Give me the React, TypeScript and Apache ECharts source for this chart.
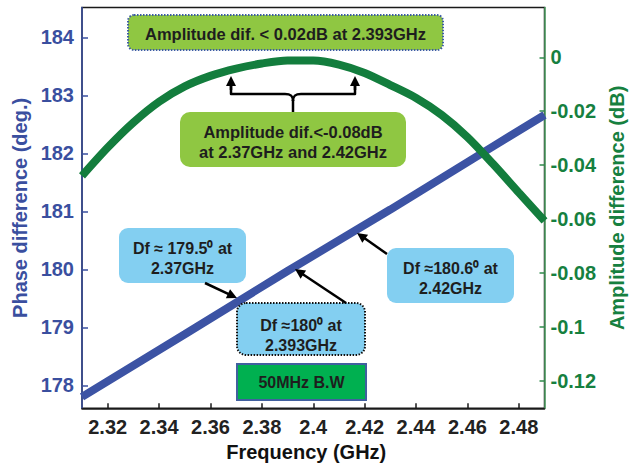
import React, { useEffect, useRef } from "react";
import * as echarts from "echarts";

// ---- data ----
const frequencyGHz = [
  2.31, 2.32, 2.33, 2.34, 2.35, 2.36, 2.37, 2.38, 2.39, 2.4,
  2.41, 2.42, 2.43, 2.44, 2.45, 2.46, 2.47, 2.48, 2.49,
];
const amplitudeDiffDb = [
  -0.044, -0.0335, -0.0242, -0.0165, -0.0108, -0.0069, -0.0042, -0.0023, -0.0012, -0.0012,
  -0.0027, -0.0058, -0.0103, -0.0151, -0.0214, -0.0296, -0.0396, -0.0502, -0.0607,
];
const phaseFreqGHz = [2.31, 2.35, 2.39, 2.43, 2.47, 2.49];
const phaseDiffDeg = [177.8, 178.88, 179.97, 181.03, 182.12, 182.66];

const xLabel = "Frequency (GHz)";
const yLeftLabel = "Phase difference (deg.)";
const yRightLabel = "Amplitude difference (dB)";

const noteTop = "Amplitude dif. < 0.02dB at 2.393GHz";
const noteMid = "Amplitude dif.<-0.08dB\nat 2.37GHz and 2.42GHz";
const noteDf1 = "Df ≈ 179.5⁰ at\n2.37GHz";
const noteDf2 = "Df ≈180⁰ at\n2.393GHz";
const noteDf3 = "Df ≈180.6⁰ at\n2.42GHz";
const noteBW = "50MHz B.W";

// ---- styles ----
const FONT = '"Liberation Sans", Arial, Helvetica, sans-serif';
const BLUE = "#3c53a4";
const GREEN = "#137d3d";
const BLUE_LABEL = "#3a4f9f";
const GREEN_LABEL = "#16803f";
const LIGHT_GREEN = "#8fc742";
const LIGHT_BLUE = "#83cff1";

function fmt(v: number) {
  const r = Math.round(v * 100) / 100;
  if (Math.abs(r - v) > 1e-6) return "";
  return String(r === 0 ? 0 : r);
}

function arrow(x1: number, y1: number, x2: number, y2: number) {
  const dx = x2 - x1;
  const dy = y2 - y1;
  const len = Math.sqrt(dx * dx + dy * dy);
  const ux = dx / len;
  const uy = dy / len;
  const hl = 10;
  const hw = 5;
  const bx = x2 - ux * hl;
  const by = y2 - uy * hl;
  return [
    {
      type: "line",
      shape: { x1, y1, x2: bx + ux * 2, y2: by + uy * 2 },
      style: { stroke: "#000", lineWidth: 2.5 },
      z: 100,
    },
    {
      type: "polygon",
      shape: {
        points: [
          [x2, y2],
          [bx - uy * hw, by + ux * hw],
          [bx + uy * hw, by - ux * hw],
        ],
      },
      style: { fill: "#000" },
      z: 100,
    },
  ];
}

function box(x: number, y: number, w: number, h: number, fill: string, stroke?: string, dash?: boolean, r = 8) {
  return {
    type: "rect",
    shape: { x, y, width: w, height: h, r },
    style: {
      fill,
      stroke: stroke || null,
      lineWidth: stroke ? 2 : 0,
      lineDash: dash ? [1.5, 1.5] : null,
    },
    z: 90,
  };
}

function label(cx: number, cy: number, text: string, size = 16) {
  return {
    type: "text",
    x: cx,
    y: cy,
    style: {
      text,
      fill: "#1e1e1e",
      font: `bold ${size}px ${FONT}`,
      align: "center",
      verticalAlign: "middle",
      lineHeight: 20,
    },
    z: 110,
  };
}

export default function App() {
  const ref = useRef<HTMLDivElement>(null);

  useEffect(() => {
    document.body.style.margin = "0";
    if (!ref.current) return;
    const chart = echarts.init(ref.current, null, { renderer: "svg" });

    const graphics: any[] = [
      // top note
      box(128, 15, 315, 35, LIGHT_GREEN, "#3d5ca3", true, 6),
      label(285.5, 34, noteTop, 16.5),
      // middle note
      box(180, 112, 226, 55, LIGHT_GREEN, undefined, false, 10),
      label(293, 141.5, noteMid, 16.5),
      // bracket
      {
        type: "polyline",
        shape: { points: [[231, 86], [231, 94], [285, 94]] },
        style: { stroke: "#000", lineWidth: 2.5, fill: null, lineJoin: "round" },
        z: 100,
      },
      {
        type: "polyline",
        shape: { points: [[301, 94], [355, 94], [355, 86]] },
        style: { stroke: "#000", lineWidth: 2.5, fill: null, lineJoin: "round" },
        z: 100,
      },
      {
        type: "bezierCurve",
        shape: { x1: 285, y1: 94, cpx1: 291, cpy1: 94, cpx2: 293, cpy2: 96, x2: 293, y2: 101 },
        style: { stroke: "#000", lineWidth: 2.5, fill: null },
        z: 100,
      },
      {
        type: "bezierCurve",
        shape: { x1: 301, y1: 94, cpx1: 295, cpy1: 94, cpx2: 293, cpy2: 96, x2: 293, y2: 101 },
        style: { stroke: "#000", lineWidth: 2.5, fill: null },
        z: 100,
      },
      {
        type: "line",
        shape: { x1: 293, y1: 100, x2: 293, y2: 112 },
        style: { stroke: "#000", lineWidth: 2.5 },
        z: 100,
      },
      ...arrow(231, 90, 231, 76),
      ...arrow(355, 90, 355, 76),
      // Df boxes
      box(119, 228, 127, 55, LIGHT_BLUE, undefined, false, 9),
      label(182.5, 258, noteDf1),
      ...arrow(205, 283, 237, 298),
      box(237, 303, 128, 52, LIGHT_BLUE, "#111", true, 9),
      label(301, 335, noteDf2),
      ...arrow(346, 303, 295, 269),
      box(387, 248, 127, 55, LIGHT_BLUE, undefined, false, 9),
      label(450.5, 278, noteDf3),
      ...arrow(387, 254, 357, 233),
      // bandwidth box
      {
        type: "rect",
        shape: { x: 237, y: 364, width: 129, height: 36 },
        style: { fill: "#00b050", stroke: "#41609f", lineWidth: 2 },
        z: 90,
      },
      label(301.5, 382, noteBW),
    ];

    chart.setOption({
      animation: false,
      backgroundColor: "#fff",
      grid: {
        left: 82,
        top: 7.5,
        width: 463.5,
        height: 400.8,
        show: true,
        borderColor: "#1a1a1a",
        borderWidth: 1.5,
        backgroundColor: "transparent",
        containLabel: false,
      },
      xAxis: {
        type: "value",
        min: 2.31,
        max: 2.49,
        splitNumber: 9,
        minInterval: 0.02,
        maxInterval: 0.02,
        axisLine: { show: true, onZero: false, lineStyle: { color: "#1a1a1a", width: 1.5 } },
        axisTick: { show: true, inside: true, length: 5, lineStyle: { color: "#1a1a1a", width: 1.5 } },
        splitLine: { show: false },
        axisLabel: {
          formatter: (v: number) => fmt(v),
          showMinLabel: false,
          showMaxLabel: false,
          margin: 9,
          color: "#222",
          fontFamily: FONT,
          fontWeight: "bold",
          fontSize: 20,
        },
        name: xLabel,
        nameLocation: "middle",
        nameGap: 32,
        nameTextStyle: {
          color: "#111",
          fontFamily: FONT,
          fontWeight: "bold",
          fontSize: 20,
          padding: [0, 14, 0, 0],
        },
      },
      yAxis: [
        {
          type: "value",
          position: "left",
          min: 177.603,
          max: 184.514,
          splitNumber: 7,
          minInterval: 1,
          maxInterval: 1,
          axisLine: { show: true, onZero: false, lineStyle: { color: BLUE_LABEL, width: 1.5 } },
          axisTick: { show: true, inside: true, length: 6, lineStyle: { color: BLUE_LABEL, width: 1.5 } },
          splitLine: { show: false },
          axisLabel: {
            formatter: (v: number) => fmt(v),
            showMinLabel: false,
            showMaxLabel: false,
            margin: 8,
            color: BLUE_LABEL,
            fontFamily: FONT,
            fontWeight: "bold",
            fontSize: 20,
          },
          name: yLeftLabel,
          nameLocation: "middle",
          nameGap: 46,
          nameTextStyle: {
            color: BLUE_LABEL,
            fontFamily: FONT,
            fontWeight: "bold",
            fontSize: 20,
          },
        },
        {
          type: "value",
          position: "right",
          min: -0.13024,
          max: 0.01848,
          splitNumber: 7,
          minInterval: 0.02,
          maxInterval: 0.02,
          axisLine: { show: true, onZero: false, lineStyle: { color: "#4fa265", width: 1.5 } },
          axisTick: { show: true, inside: true, length: 5, lineStyle: { color: "#2f8a4b", width: 1.5 } },
          splitLine: { show: false },
          axisLabel: {
            formatter: (v: number) => fmt(v),
            showMinLabel: false,
            showMaxLabel: false,
            margin: 6,
            color: GREEN_LABEL,
            fontFamily: FONT,
            fontWeight: "bold",
            fontSize: 20,
          },
          name: yRightLabel,
          nameLocation: "middle",
          nameGap: 58,
          nameTextStyle: {
            color: GREEN_LABEL,
            fontFamily: FONT,
            fontWeight: "bold",
            fontSize: 20,
          },
        },
      ],
      series: [
        {
          name: "Phase difference",
          type: "line",
          yAxisIndex: 0,
          data: phaseFreqGHz.map((f, i) => [f, phaseDiffDeg[i]]),
          showSymbol: false,
          symbol: "none",
          lineStyle: { color: BLUE, width: 8 },
          z: 3,
        },
        {
          name: "Amplitude difference",
          type: "line",
          yAxisIndex: 1,
          data: frequencyGHz.map((f, i) => [f, amplitudeDiffDb[i]]),
          showSymbol: false,
          symbol: "none",
          smooth: 0.3,
          lineStyle: { color: GREEN, width: 8 },
          z: 4,
        },
      ],
      graphic: graphics,
    });

    return () => {
      chart.dispose();
    };
  }, []);

  return <div ref={ref} style={{ width: 635, height: 468 }} />;
}
